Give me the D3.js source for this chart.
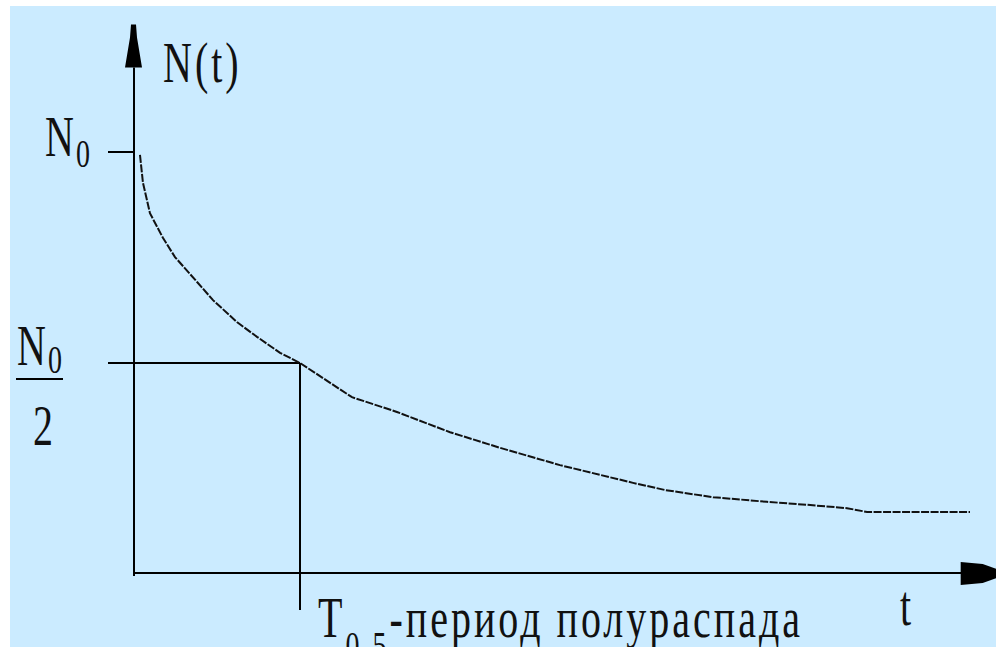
<!DOCTYPE html>
<html>
<head>
<meta charset="utf-8">
<script src="https://cdn.jsdelivr.net/npm/d3@7"></script>
<style>
  html, body { margin: 0; padding: 0; background: #fff; }
  svg { display: block; }
  .lbl { font-family: "Liberation Serif", serif; fill: #111; letter-spacing: 3px; }
</style>
</head>
<body>
<svg id="chart"></svg>
<script>
// decay curve: t in half-lives, N as a fraction of N0
const tValues = [0.036, 0.054, 0.096, 0.175, 0.247, 0.380, 0.476, 0.620, 0.741, 0.880, 1.0,
                 1.313, 1.584, 1.904, 2.205, 2.566, 3.006, 3.199, 3.488, 3.813, 4.054, 4.295, 4.416, 5.036];
const nValues = [0.993, 0.927, 0.855, 0.796, 0.751, 0.692, 0.649, 0.597, 0.562, 0.524, 0.5,
                 0.419, 0.384, 0.336, 0.299, 0.258, 0.216, 0.199, 0.182, 0.171, 0.164, 0.156, 0.147, 0.147];
const yTicks = [1, 0.5];        // N0 and N0/2
const halfLife = 1;             // T0,5
const xLabel = "t";
const yLabel = "N(t)";
const halfLifeText = "-период полураспада";

const W = 996, H = 647;
const svg = d3.select('#chart').attr('width', W).attr('height', H);

// light blue panel (white margin on top and left)
svg.append('rect').attr('x', 10).attr('y', 6).attr('width', W - 10).attr('height', H - 6)
    .attr('fill', '#cbebff');

const xScale = d3.scaleLinear().domain([0, 1]).range([134, 300]);
const yScale = d3.scaleLinear().domain([0, 1]).range([574, 152]);

const g = svg.append('g');

// axes
g.append('line')
    .attr('x1', xScale(0)).attr('x2', xScale(0))
    .attr('y1', yScale(0) + 2).attr('y2', yScale(1.2))
    .attr('stroke', '#000').attr('stroke-width', 2);
g.append('line')
    .attr('x1', xScale(0)).attr('x2', xScale(5.0))
    .attr('y1', yScale(0) - 1).attr('y2', yScale(0) - 1)
    .attr('stroke', '#000').attr('stroke-width', 2);

// arrow heads
const ax = xScale(0), ay = yScale(1.2);
g.append('path')
    .attr('d', `M${ax - 3},${ay - 43} L${ax + 2},${ay - 43} L${ax + 3},${ay - 30} L${ax + 8},${ay} L${ax - 9},${ay} L${ax - 4},${ay - 30} Z`)
    .attr('fill', '#000');
const bx = xScale(4.98), by = yScale(0) - 1;
g.append('path')
    .attr('d', `M${bx},${by - 11} L${bx + 22},${by - 9} L${bx + 36},${by - 4} L${bx + 36},${by + 5} L${bx + 22},${by + 10} L${bx},${by + 12} Z`)
    .attr('fill', '#000');

// ticks at N0 and N0/2
g.selectAll('.ytick').data(yTicks).join('line')
    .attr('class', 'ytick')
    .attr('x1', xScale(0) - 26)
    .attr('x2', d => d === 0.5 ? xScale(halfLife) : xScale(0))
    .attr('y1', d => yScale(d)).attr('y2', d => yScale(d))
    .attr('stroke', '#000').attr('stroke-width', 2);

// half-life drop line
g.append('line')
    .attr('x1', xScale(halfLife)).attr('x2', xScale(halfLife))
    .attr('y1', yScale(0.5)).attr('y2', 610)
    .attr('stroke', '#000').attr('stroke-width', 2);

// decay curve
const line = d3.line().x((d, i) => xScale(tValues[i])).y(d => yScale(d));
g.append('path')
    .datum(nValues)
    .attr('d', line)
    .attr('fill', 'none')
    .attr('stroke', '#111')
    .attr('stroke-width', 2)
    .attr('stroke-dasharray', '8 1.5');

// labels (the source font is tall and narrow, so stretch vertically)
function label(x, y, build) {
  const t = g.append('text').attr('class', 'lbl')
      .attr('transform', `translate(${x},${y}) scale(1,1.4)`)
      .attr('font-size', 40);
  build(t);
  return t;
}

label(163, 82, t => t.text(yLabel));

label(45, 156, t => {
  t.append('tspan').text('N');
  t.append('tspan').attr('font-size', 28).attr('dx', -1).attr('dy', 8).text('0');
});

label(17, 365, t => {
  t.append('tspan').text('N');
  t.append('tspan').attr('font-size', 28).attr('dx', -1).attr('dy', 6).text('0');
});
g.append('line').attr('x1', 16).attr('x2', 63).attr('y1', 379).attr('y2', 379)
    .attr('stroke', '#000').attr('stroke-width', 2);
label(33, 445, t => t.text('2'));

label(318, 637, t => {
  t.append('tspan').text('T');
  t.append('tspan').attr('font-size', 28).attr('dy', 16).text('0,5');
  t.append('tspan').attr('dy', -16).text(halfLifeText);
});

label(900, 625, t => t.text(xLabel));
</script>
</body>
</html>
